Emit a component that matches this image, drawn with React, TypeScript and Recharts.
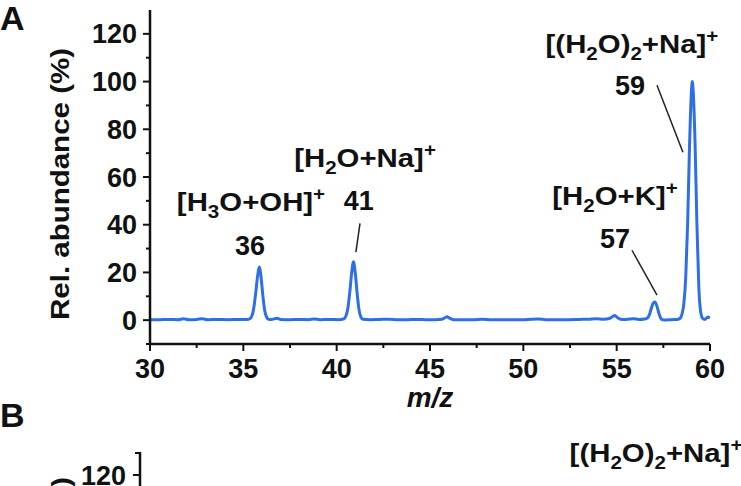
import React from "react";
import {
  LineChart,
  Line,
  XAxis,
  YAxis,
  ReferenceLine,
  ReferenceDot,
} from "recharts";

// m/z axis values and relative abundance (%)
const MZ = [
  30.0, 30.5, 31.0, 31.5, 31.8, 32.1, 32.5, 32.8, 33.1, 33.6, 34.2, 34.8, 35.2,
  35.35, 35.45, 35.55, 35.65, 35.75, 35.85, 35.95, 36.05, 36.15, 36.25, 36.35,
  36.5, 36.8, 37.0, 37.5, 38.0, 38.5, 38.8, 39.1, 39.6, 40.1,
  40.4, 40.5, 40.6, 40.7, 40.8, 40.9, 41.0, 41.1, 41.2, 41.3, 41.4,
  41.8, 42.3, 42.8, 43.3, 43.8, 44.3, 44.8, 45.3, 45.65, 45.8, 45.9, 46.05, 46.25,
  46.7, 47.3, 47.8, 48.3, 48.9, 49.5, 50.1, 50.8, 51.2, 51.8, 52.4, 53.0, 53.5,
  53.9, 54.3, 54.65, 54.8, 54.9, 55.05, 55.2, 55.5, 55.9, 56.2, 56.5,
  56.65, 56.75, 56.85, 56.95, 57.05, 57.15, 57.25, 57.35, 57.45, 57.65, 57.95, 58.25, 58.4,
  58.5, 58.6, 58.7, 58.8, 58.9, 59.0, 59.05, 59.1, 59.2, 59.3, 59.4,
  59.5, 59.6, 59.72, 59.8, 59.9, 60.0,
];
const ABUNDANCE = [
  0.2, 0.2, 0.3, 0.2, 0.6, 0.2, 0.3, 0.6, 0.2, 0.3, 0.2, 0.3, 0.3,
  0.6, 1.6, 4.6, 10.5, 17.5, 22.3, 18, 10, 3.8, 1.2, 0.4,
  0.3, 0.8, 0.3, 0.2, 0.3, 0.2, 0.5, 0.2, 0.3, 0.2,
  0.6, 1.8, 5, 11.5, 19.5, 24.5, 19.5, 11, 4.2, 1.3, 0.4,
  0.2, 0.3, 0.4, 0.2, 0.2, 0.3, 0.2, 0.2, 0.4, 1.0, 1.4, 0.8, 0.2,
  0.2, 0.2, 0.4, 0.2, 0.2, 0.2, 0.2, 0.5, 0.2, 0.2, 0.2, 0.3, 0.4,
  0.6, 0.4, 0.8, 1.6, 1.9, 1.0, 0.4, 0.3, 0.6, 0.3, 0.5,
  0.9, 2.2, 4.8, 7.0, 7.6, 6.0, 3.2, 1.0, 0.2, 0.1, 0.2, 0.3, 0.8,
  2.5, 7, 18, 40, 72, 95, 100, 96, 74, 40, 14,
  3.5, 0.8, 0.3, 0.8, 1.3, 0.8,
];

const X_TICKS = [30, 32.5, 35, 37.5, 40, 42.5, 45, 47.5, 50, 52.5, 55, 57.5, 60];
const Y_TICKS = [-10, 0, 10, 20, 30, 40, 50, 60, 70, 80, 90, 100, 110, 120];

type Part = [string, ("sub" | "sup")?];

// peak annotations: formula, label anchor (data coords), nominal mass anchor
const ANNOTATIONS: { formula: Part[]; at: [number, number]; mass: string; massAt: [number, number] }[] = [
  { formula: [["[H"], ["3", "sub"], ["O+OH]"], ["+", "sup"]], at: [35.41, 45.7], mass: "36", massAt: [35.36, 27.2] },
  { formula: [["[H"], ["2", "sub"], ["O+Na]"], ["+", "sup"]], at: [41.52, 64.1], mass: "41", massAt: [41.19, 46.1] },
  { formula: [["[H"], ["2", "sub"], ["O+K]"], ["+", "sup"]], at: [54.91, 48.2], mass: "57", massAt: [54.91, 30.2] },
  { formula: [["[(H"], ["2", "sub"], ["O)"], ["2", "sub"], ["+Na]"], ["+", "sup"]], at: [55.82, 111.9], mass: "59", massAt: [55.71, 94.3] },
];

const LEADERS: [number, number, number, number][] = [
  [41.25, 40.6, 41.03, 28.5],
  [55.82, 29.3, 57.16, 10.5],
  [57.16, 98.5, 58.55, 70.4],
];

const data = MZ.map((mz, i) => ({ mz, abundance: ABUNDANCE[i] }));

const FONT = "'Liberation Sans', Arial, sans-serif";
const STRETCH = 1.13;

function Formula({ x, y, parts, size = 26 }: { x: number; y: number; parts: Part[]; size?: number }) {
  let shift = 0;
  const spans = parts.map(([t, k], i) => {
    const target = k === "sub" ? 7 : k === "sup" ? -11 : 0;
    const dy = target - shift;
    shift = target;
    return (
      <tspan key={i} dy={dy} fontSize={k ? size * 0.7 : size}>
        {t}
      </tspan>
    );
  });
  return (
    <g transform={`translate(${x},${y}) scale(${STRETCH},1)`}>
      <text x={0} y={0} textAnchor="middle" fontFamily={FONT} fontWeight="bold" fontSize={size} fill="#111">
        {spans}
      </text>
    </g>
  );
}

const XTick = (props: any) => {
  const { x, y, payload } = props;
  const major = payload.value % 5 === 0;
  return (
    <g>
      <line x1={x} x2={x} y1={y} y2={y + (major ? 7 : 4)} stroke="#111" strokeWidth={2} />
      {major && (
        <text x={x} y={y + 34} textAnchor="middle" fontFamily={FONT} fontWeight="bold" fontSize={27} fill="#111">
          {payload.value}
        </text>
      )}
    </g>
  );
};

const YTick = (props: any) => {
  const { x, y, payload } = props;
  const major = payload.value >= 0 && payload.value % 20 === 0;
  return (
    <g>
      <line x1={x - (major ? 7 : 4)} x2={x} y1={y} y2={y} stroke="#111" strokeWidth={2} />
      {major && (
        <text x={x - 13} y={y + 9.5} textAnchor="end" fontFamily={FONT} fontWeight="bold" fontSize={27} fill="#111">
          {payload.value}
        </text>
      )}
    </g>
  );
};

export default function App() {
  return (
    <div style={{ position: "absolute", left: 0, top: 0, width: 741, height: 486, background: "#fff", overflow: "hidden" }}>
      <LineChart width={741} height={486} data={data} margin={{ top: 10, right: 31, left: 0, bottom: 0 }}>
        <XAxis
          dataKey="mz"
          type="number"
          domain={[30, 60]}
          ticks={X_TICKS}
          interval={0}
          tick={<XTick />}
          tickSize={0}
          tickMargin={0}
          tickLine={false}
          axisLine={{ stroke: "#111", strokeWidth: 2.5 }}
          height={142}
          allowDataOverflow
          label={{
            content: (p: any) => (
              <text
                x={p.viewBox.x + p.viewBox.width / 2}
                y={p.viewBox.y + 63}
                textAnchor="middle"
                fontFamily={FONT}
                fontWeight="bold"
                fontStyle="italic"
                fontSize={28}
                fill="#111"
              >
                m/z
              </text>
            ),
          }}
        />
        <YAxis
          type="number"
          domain={[-10, 130]}
          ticks={Y_TICKS}
          interval={0}
          tick={<YTick />}
          tickSize={0}
          tickMargin={0}
          tickLine={false}
          axisLine={{ stroke: "#111", strokeWidth: 2.5 }}
          width={150}
          allowDataOverflow
          label={{
            content: (p: any) => {
              const cy = p.viewBox.y + 174;
              return (
                <text
                  x={69}
                  y={cy}
                  transform={`rotate(-90 69 ${cy})`}
                  textAnchor="middle"
                  textLength={272}
                  lengthAdjust="spacingAndGlyphs"
                  fontFamily={FONT}
                  fontWeight="bold"
                  fontSize={26}
                  fill="#111"
                >
                  Rel. abundance (%)
                </text>
              );
            },
          }}
        />
        {LEADERS.map(([x1, y1, x2, y2], i) => (
          <ReferenceLine
            key={i}
            segment={[{ x: x1, y: y1 }, { x: x2, y: y2 }]}
            stroke="#222"
            strokeWidth={1.5}
          />
        ))}
        <Line
          dataKey="abundance"
          type="monotone"
          stroke="#2f6fe4"
          strokeWidth={3}
          dot={false}
          isAnimationActive={false}
        />
        {ANNOTATIONS.map((a, i) => (
          <ReferenceDot
            key={"f" + i}
            x={a.at[0]}
            y={a.at[1]}
            r={0}
            shape={(p: any) => <Formula x={p.cx} y={p.cy} parts={a.formula} />}
          />
        ))}
        {ANNOTATIONS.map((a, i) => (
          <ReferenceDot
            key={"m" + i}
            x={a.massAt[0]}
            y={a.massAt[1]}
            r={0}
            shape={(p: any) => (
              <text x={p.cx} y={p.cy} textAnchor="middle" fontFamily={FONT} fontWeight="bold" fontSize={27} fill="#111">
                {a.mass}
              </text>
            )}
          />
        ))}
      </LineChart>

      {/* panel letters and the top edge of panel B */}
      <svg width={741} height={486} style={{ position: "absolute", left: 0, top: 0, pointerEvents: "none" }}>
        <text x={0} y={30} fontFamily={FONT} fontWeight="bold" fontSize={34} fill="#111">A</text>
        <text x={0} y={427} fontFamily={FONT} fontWeight="bold" fontSize={34} fill="#111">B</text>
        <line x1={140} x2={140} y1={452} y2={490} stroke="#111" strokeWidth={2.5} />
        <line x1={135} x2={140} y1={453} y2={453} stroke="#111" strokeWidth={2} />
        <line x1={133} x2={140} y1={475} y2={475} stroke="#111" strokeWidth={2} />
        <text x={126} y={484.5} textAnchor="end" fontFamily={FONT} fontWeight="bold" fontSize={27} fill="#111">120</text>
        <text
          x={70}
          y={477}
          transform="rotate(-90 70 477)"
          textAnchor="end"
          textLength={272}
          lengthAdjust="spacingAndGlyphs"
          fontFamily={FONT}
          fontWeight="bold"
          fontSize={26}
          fill="#111"
        >
          Rel. abundance (%)
        </text>
        <Formula x={656} y={462} parts={ANNOTATIONS[3].formula} />
      </svg>
    </div>
  );
}
